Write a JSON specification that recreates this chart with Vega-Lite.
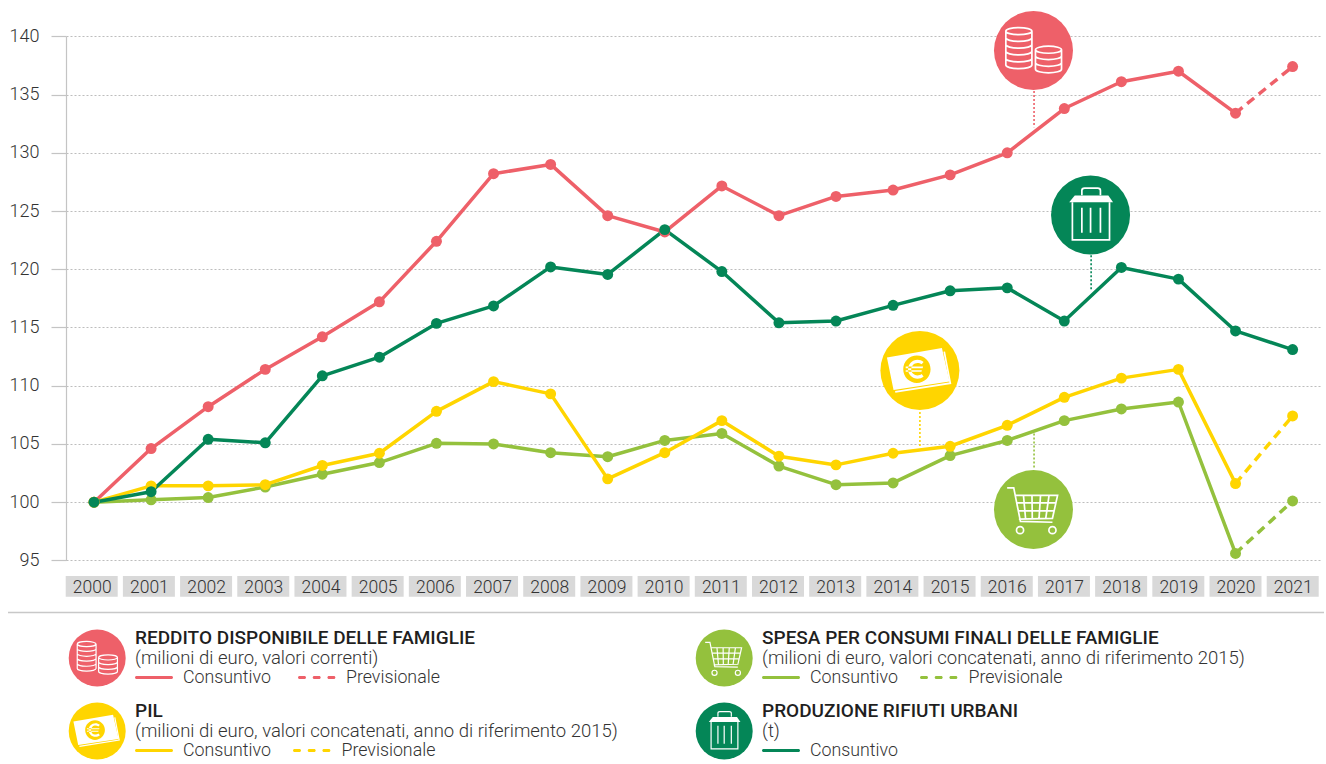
{"$schema":"https://vega.github.io/schema/vega-lite/v6.json","width":1326,"height":764,"padding":0,"autosize":{"type":"none"},"background":"white",
"config":{"view":{"stroke":null},"font":"Roboto"},
"datasets":{
"serie":[
{"serie":"Reddito","anno":2000,"valore":100},{"serie":"Reddito","anno":2001,"valore":104.6},{"serie":"Reddito","anno":2002,"valore":108.2},{"serie":"Reddito","anno":2003,"valore":111.4},{"serie":"Reddito","anno":2004,"valore":114.2},{"serie":"Reddito","anno":2005,"valore":117.2},{"serie":"Reddito","anno":2006,"valore":122.4},{"serie":"Reddito","anno":2007,"valore":128.2},{"serie":"Reddito","anno":2008,"valore":129},{"serie":"Reddito","anno":2009,"valore":124.6},{"serie":"Reddito","anno":2010,"valore":123.2},{"serie":"Reddito","anno":2011,"valore":127.15},{"serie":"Reddito","anno":2012,"valore":124.6},{"serie":"Reddito","anno":2013,"valore":126.25},{"serie":"Reddito","anno":2014,"valore":126.8},{"serie":"Reddito","anno":2015,"valore":128.1},{"serie":"Reddito","anno":2016,"valore":130},{"serie":"Reddito","anno":2017,"valore":133.8},{"serie":"Reddito","anno":2018,"valore":136.1},{"serie":"Reddito","anno":2019,"valore":137},{"serie":"Reddito","anno":2020,"valore":133.4},{"serie":"Reddito","anno":2021,"valore":137.4},
{"serie":"Spesa","anno":2000,"valore":100},{"serie":"Spesa","anno":2001,"valore":100.2},{"serie":"Spesa","anno":2002,"valore":100.4},{"serie":"Spesa","anno":2003,"valore":101.3},{"serie":"Spesa","anno":2004,"valore":102.4},{"serie":"Spesa","anno":2005,"valore":103.4},{"serie":"Spesa","anno":2006,"valore":105.05},{"serie":"Spesa","anno":2007,"valore":105},{"serie":"Spesa","anno":2008,"valore":104.25},{"serie":"Spesa","anno":2009,"valore":103.9},{"serie":"Spesa","anno":2010,"valore":105.3},{"serie":"Spesa","anno":2011,"valore":105.9},{"serie":"Spesa","anno":2012,"valore":103.1},{"serie":"Spesa","anno":2013,"valore":101.5},{"serie":"Spesa","anno":2014,"valore":101.65},{"serie":"Spesa","anno":2015,"valore":104},{"serie":"Spesa","anno":2016,"valore":105.3},{"serie":"Spesa","anno":2017,"valore":107},{"serie":"Spesa","anno":2018,"valore":108},{"serie":"Spesa","anno":2019,"valore":108.6},{"serie":"Spesa","anno":2020,"valore":95.6},{"serie":"Spesa","anno":2021,"valore":100.1},
{"serie":"PIL","anno":2000,"valore":100},{"serie":"PIL","anno":2001,"valore":101.4},{"serie":"PIL","anno":2002,"valore":101.4},{"serie":"PIL","anno":2003,"valore":101.5},{"serie":"PIL","anno":2004,"valore":103.15},{"serie":"PIL","anno":2005,"valore":104.2},{"serie":"PIL","anno":2006,"valore":107.8},{"serie":"PIL","anno":2007,"valore":110.35},{"serie":"PIL","anno":2008,"valore":109.3},{"serie":"PIL","anno":2009,"valore":102},{"serie":"PIL","anno":2010,"valore":104.25},{"serie":"PIL","anno":2011,"valore":107},{"serie":"PIL","anno":2012,"valore":103.95},{"serie":"PIL","anno":2013,"valore":103.2},{"serie":"PIL","anno":2014,"valore":104.2},{"serie":"PIL","anno":2015,"valore":104.8},{"serie":"PIL","anno":2016,"valore":106.6},{"serie":"PIL","anno":2017,"valore":109},{"serie":"PIL","anno":2018,"valore":110.65},{"serie":"PIL","anno":2019,"valore":111.4},{"serie":"PIL","anno":2020,"valore":101.6},{"serie":"PIL","anno":2021,"valore":107.4},
{"serie":"Rifiuti","anno":2000,"valore":100},{"serie":"Rifiuti","anno":2001,"valore":100.9},{"serie":"Rifiuti","anno":2002,"valore":105.4},{"serie":"Rifiuti","anno":2003,"valore":105.1},{"serie":"Rifiuti","anno":2004,"valore":110.85},{"serie":"Rifiuti","anno":2005,"valore":112.45},{"serie":"Rifiuti","anno":2006,"valore":115.35},{"serie":"Rifiuti","anno":2007,"valore":116.85},{"serie":"Rifiuti","anno":2008,"valore":120.2},{"serie":"Rifiuti","anno":2009,"valore":119.55},{"serie":"Rifiuti","anno":2010,"valore":123.4},{"serie":"Rifiuti","anno":2011,"valore":119.8},{"serie":"Rifiuti","anno":2012,"valore":115.4},{"serie":"Rifiuti","anno":2013,"valore":115.55},{"serie":"Rifiuti","anno":2014,"valore":116.9},{"serie":"Rifiuti","anno":2015,"valore":118.15},{"serie":"Rifiuti","anno":2016,"valore":118.4},{"serie":"Rifiuti","anno":2017,"valore":115.55},{"serie":"Rifiuti","anno":2018,"valore":120.15},{"serie":"Rifiuti","anno":2019,"valore":119.15},{"serie":"Rifiuti","anno":2020,"valore":114.7},{"serie":"Rifiuti","anno":2021,"valore":113.1}],
"anni":[{"anno":2000},{"anno":2001},{"anno":2002},{"anno":2003},{"anno":2004},{"anno":2005},{"anno":2006},{"anno":2007},{"anno":2008},{"anno":2009},{"anno":2010},{"anno":2011},{"anno":2012},{"anno":2013},{"anno":2014},{"anno":2015},{"anno":2016},{"anno":2017},{"anno":2018},{"anno":2019},{"anno":2020},{"anno":2021}],
"icone":[
{"serie":"Reddito","anno":2016.46,"valore":138.78,"da":135.3,"a":132.2,"xr":2016.47},
{"serie":"Rifiuti","anno":2017.46,"valore":124.66,"da":121.2,"a":118.2,"xr":2017.47},
{"serie":"PIL","anno":2014.47,"valore":111.3,"da":107.75,"a":104.75,"xr":2014.47},
{"serie":"Spesa","anno":2016.46,"valore":99.36,"da":105.9,"a":102.85,"xr":2016.47}],
"legenda":[
{"serie":"Reddito","titolo":"REDDITO DISPONIBILE DELLE FAMIGLIE","nota":"(milioni di euro, valori correnti)","colonna":"sx","blocco":"alto","prev":"largo"},
{"serie":"PIL","titolo":"PIL","nota":"(milioni di euro, valori concatenati, anno di riferimento 2015)","colonna":"sx","blocco":"basso","prev":"stretto"},
{"serie":"Spesa","titolo":"SPESA PER CONSUMI FINALI DELLE FAMIGLIE","nota":"(milioni di euro, valori concatenati, anno di riferimento 2015)","colonna":"dx","blocco":"alto","prev":"stretto"},
{"serie":"Rifiuti","titolo":"PRODUZIONE RIFIUTI URBANI","nota":"(t)","colonna":"dx","blocco":"basso","prev":"nessuno"}],
"filetto":[{"colonna":"sx","blocco":"alto"}]
},
"layer":[
{"data":{"name":"anni"},"transform":[{"calculate":"0","as":"fascia"}],"mark":{"type":"tick","orient":"horizontal","size":52,"thickness":20.7,"color":"#d9d9d9","opacity":1},
"encoding":{
"x":{"field":"anno","type":"quantitative","scale":{"domain":[2000,2021],"range":[91.7,1292.7],"nice":false,"zero":false,"padding":0},
"axis":{"title":null,"values":[2000,2001,2002,2003,2004,2005,2006,2007,2008,2009,2010,2011,2012,2013,2014,2015,2016,2017,2018,2019,2020,2021],"format":"d","domain":false,"ticks":false,"grid":false,"offset":-188,"labelPadding":2,"labelFontSize":17.5,"labelFont":"Roboto","labelFontWeight":300,"labelColor":"#333333","labelFlush":false,"labelOverlap":false,"zindex":1}},
"y":{"field":"fascia","type":"quantitative","scale":{"domain":[0,1],"range":[586.4,600],"nice":false,"zero":false},"axis":null}}},
{"encoding":{
"x":{"field":"anno","type":"quantitative","scale":{"domain":[1999.509,2021.48],"range":[66,1320],"nice":false,"zero":false,"padding":0},"axis":null},
"y":{"field":"valore","type":"quantitative","scale":{"domain":[95,140],"range":[560.4,36.3],"nice":false,"zero":false},
"axis":{"title":null,"values":[95,100,105,110,115,120,125,130,135,140],"offset":-66,"tickSize":15,"tickColor":"#c4c4c4","tickWidth":1.2,"domainColor":"#c4c4c4","domainWidth":1.2,"labelPadding":12,"labelFontSize":18,"labelFont":"Roboto","labelFontWeight":300,"labelColor":"#333333","grid":true,"gridColor":"#bdbdbd","gridDash":[2,2],"gridWidth":1}},
"color":{"field":"serie","type":"nominal","scale":{"domain":["Reddito","Spesa","PIL","Rifiuti"],"range":["#EE6069","#94C13D","#FFD500","#048657"]},"legend":null},
"shape":{"field":"serie","type":"nominal","scale":{"domain":["Reddito","Spesa","PIL","Rifiuti"],"range":["M-.70,-.49 A.33,.09 0 1 1 -.04,-.49 A.33,.09 0 1 1 -.70,-.49 L-.70,.37 A.33,.09 0 0 0 -.04,.37 L-.04,-.49 M-.70,-.32 A.33,.09 0 0 0 -.04,-.32 M-.70,-.15 A.33,.09 0 0 0 -.04,-.15 M-.70,.02 A.33,.09 0 0 0 -.04,.02 M-.70,.2 A.33,.09 0 0 0 -.04,.2 M.05,-.02 A.33,.09 0 1 1 .71,-.02 A.33,.09 0 1 1 .05,-.02 L.05,.475 A.33,.09 0 0 0 .71,.475 L.71,-.02 M.05,.14 A.33,.09 0 0 0 .71,.14 M.05,.31 A.33,.09 0 0 0 .71,.31",
"M-.667,-.55 L-.5,-.55 L-.33,.30 L.48,.32 M-.47,-.36 L.61,-.36 L.48,.22 L-.37,.24 M-.254,-.36 L-.2,.23 M-.038,-.36 L-.03,.23 M.178,-.36 L.14,.23 M.394,-.36 L.31,.23 M-.43,-.17 L.57,-.17 M-.39,.03 L.54,.03 M-.25,.52 A.09,.09 0 1 1 -.43,.52 A.09,.09 0 1 1 -.25,.52 M.57,.52 A.09,.09 0 1 1 .39,.52 A.09,.09 0 1 1 .57,.52",
"M-.625,.54 L.77,.32 L.616,-.48",
"M-.22,-.5 L-.22,-.62 Q-.22,-.68 -.15,-.68 L.18,-.68 Q.25,-.68 .25,-.62 L.25,-.5 M-.46,-.32 L-.46,.63 L.48,.63 L.48,-.32 M-.22,-.18 L-.22,.45 M0,-.18 L0,.45 M.25,-.18 L.25,.45"]},"legend":null}
},
"layer":[
{"data":{"name":"icone"},"mark":{"type":"rule","strokeWidth":1.6,"strokeDash":[2,2]},"encoding":{"x":{"field":"xr","type":"quantitative"},"y":{"field":"da","type":"quantitative"},"y2":{"field":"a"},"shape":null}},
{"data":{"name":"serie"},"transform":[{"filter":"datum.serie==='Rifiuti' || datum.anno<=2020"}],"mark":{"type":"line","strokeWidth":3.5,"strokeJoin":"round"},"encoding":{"detail":{"field":"serie"},"shape":null}},
{"data":{"name":"serie"},"transform":[{"filter":"datum.serie!=='Rifiuti' && datum.anno>=2020"}],"mark":{"type":"line","strokeWidth":3.5,"strokeDash":[9,6]},"encoding":{"detail":{"field":"serie"},"shape":null}},
{"data":{"name":"serie"},"mark":{"type":"point","filled":true,"opacity":1,"size":120,"shape":"circle"},"encoding":{"shape":null}},
{"data":{"name":"icone"},"mark":{"type":"point","filled":true,"opacity":1,"size":6241,"shape":"circle"},"encoding":{"shape":null}},
{"data":{"name":"icone"},"mark":{"type":"point","filled":false,"opacity":1,"size":6241,"strokeWidth":1.7,"stroke":"white","fill":null},"encoding":{"color":null}},
{"data":{"name":"icone"},"transform":[{"filter":"datum.serie==='PIL'"}],"mark":{"type":"point","filled":true,"opacity":1,"size":6241,"fill":"white","stroke":null,"shape":"M-.835,-.33 L.557,-.57 L.75,.278 L-.667,.489 Z M.27,-.034 A.346,.346 0 1 0 -.422,-.034 A.346,.346 0 1 0 .27,-.034 Z M.094,-.218 A.24,.24 0 1 0 .094,.15 L.043,.089 A.16,.16 0 1 1 .043,-.157 Z M-.36,-.1 L.08,-.1 L.07,-.06 L-.36,-.06 Z M-.36,-.01 L.05,-.01 L.04,.03 L-.36,.03 Z"},"encoding":{"color":null,"shape":null}},
{"data":{"name":"icone"},"transform":[{"filter":"datum.serie==='Rifiuti'"}],"mark":{"type":"point","filled":true,"opacity":1,"size":6241,"fill":"white","stroke":null,"shape":"M-.40,-.49 L.45,-.49 L.57,-.32 L-.54,-.32 Z"},"encoding":{"color":null,"shape":null}}
]},
{"encoding":{
"x":{"field":"colonna","type":"nominal","scale":{"type":"point","domain":["sx","dx"],"range":[135,762],"padding":0},"axis":null},
"y":{"field":"blocco","type":"nominal","scale":{"type":"point","domain":["alto","basso"],"range":[637.5,710.5],"padding":0},"axis":null}},
"layer":[
{"data":{"name":"filetto"},"mark":{"type":"tick","orient":"horizontal","size":1316,"thickness":1.5,"color":"#c8c8c8","xOffset":531,"yOffset":-25,"opacity":1}},
{"data":{"name":"legenda"},"mark":{"type":"point","filled":true,"opacity":1,"size":3249,"shape":"circle","xOffset":-37.8,"yOffset":20.5},"encoding":{"color":{"field":"serie","type":"nominal","legend":null}}},
{"data":{"name":"legenda"},"mark":{"type":"point","filled":false,"opacity":1,"size":3249,"strokeWidth":1.2,"stroke":"white","fill":null,"xOffset":-37.8,"yOffset":20.5},"encoding":{"shape":{"field":"serie","type":"nominal","legend":null}}},
{"data":{"name":"legenda"},"transform":[{"filter":"datum.serie==='PIL'"}],"mark":{"type":"point","filled":true,"opacity":1,"size":3249,"fill":"white","stroke":null,"xOffset":-37.8,"yOffset":20.5,"shape":"M-.835,-.33 L.557,-.57 L.75,.278 L-.667,.489 Z M.27,-.034 A.346,.346 0 1 0 -.422,-.034 A.346,.346 0 1 0 .27,-.034 Z M.094,-.218 A.24,.24 0 1 0 .094,.15 L.043,.089 A.16,.16 0 1 1 .043,-.157 Z M-.36,-.1 L.08,-.1 L.07,-.06 L-.36,-.06 Z M-.36,-.01 L.05,-.01 L.04,.03 L-.36,.03 Z"}},
{"data":{"name":"legenda"},"transform":[{"filter":"datum.serie==='Rifiuti'"}],"mark":{"type":"point","filled":true,"opacity":1,"size":3249,"fill":"white","stroke":null,"xOffset":-37.8,"yOffset":20.5,"shape":"M-.40,-.49 L.45,-.49 L.57,-.32 L-.54,-.32 Z"}},
{"data":{"name":"legenda"},"mark":{"type":"text","align":"left","baseline":"middle","fontSize":19,"fontWeight":500,"font":"Roboto","color":"#1f1f1f"},"encoding":{"text":{"field":"titolo"}}},
{"data":{"name":"legenda"},"mark":{"type":"text","align":"left","baseline":"middle","fontSize":18.5,"fontWeight":300,"font":"Roboto","color":"#333333","yOffset":20},"encoding":{"text":{"field":"nota"}}},
{"data":{"name":"legenda"},"mark":{"type":"tick","orient":"horizontal","size":38,"thickness":3,"xOffset":19,"yOffset":40,"opacity":1,"cornerRadius":1.5},"encoding":{"color":{"field":"serie","type":"nominal","legend":null}}},
{"data":{"name":"legenda"},"mark":{"type":"text","align":"left","baseline":"middle","fontSize":17.8,"fontWeight":300,"font":"Roboto","color":"#333333","yOffset":40.5,"xOffset":48},"encoding":{"text":{"value":"Consuntivo"}}},
{"data":{"name":"legenda"},"transform":[{"filter":"datum.prev==='largo'"}],"mark":{"type":"tick","orient":"horizontal","size":8,"thickness":3,"xOffset":167,"yOffset":40,"opacity":1,"cornerRadius":1.5},"encoding":{"color":{"field":"serie","type":"nominal","legend":null}}},
{"data":{"name":"legenda"},"transform":[{"filter":"datum.prev==='largo'"}],"mark":{"type":"tick","orient":"horizontal","size":8,"thickness":3,"xOffset":181.7,"yOffset":40,"opacity":1,"cornerRadius":1.5},"encoding":{"color":{"field":"serie","type":"nominal","legend":null}}},
{"data":{"name":"legenda"},"transform":[{"filter":"datum.prev==='largo'"}],"mark":{"type":"tick","orient":"horizontal","size":8,"thickness":3,"xOffset":196.4,"yOffset":40,"opacity":1,"cornerRadius":1.5},"encoding":{"color":{"field":"serie","type":"nominal","legend":null}}},
{"data":{"name":"legenda"},"transform":[{"filter":"datum.prev==='stretto'"}],"mark":{"type":"tick","orient":"horizontal","size":8,"thickness":3,"xOffset":162,"yOffset":40,"opacity":1,"cornerRadius":1.5},"encoding":{"color":{"field":"serie","type":"nominal","legend":null}}},
{"data":{"name":"legenda"},"transform":[{"filter":"datum.prev==='stretto'"}],"mark":{"type":"tick","orient":"horizontal","size":8,"thickness":3,"xOffset":176.7,"yOffset":40,"opacity":1,"cornerRadius":1.5},"encoding":{"color":{"field":"serie","type":"nominal","legend":null}}},
{"data":{"name":"legenda"},"transform":[{"filter":"datum.prev==='stretto'"}],"mark":{"type":"tick","orient":"horizontal","size":8,"thickness":3,"xOffset":191.4,"yOffset":40,"opacity":1,"cornerRadius":1.5},"encoding":{"color":{"field":"serie","type":"nominal","legend":null}}},
{"data":{"name":"legenda"},"transform":[{"filter":"datum.prev==='largo'"}],"mark":{"type":"text","align":"left","baseline":"middle","fontSize":17.8,"fontWeight":300,"font":"Roboto","color":"#333333","yOffset":40.5,"xOffset":211},"encoding":{"text":{"value":"Previsionale"}}},
{"data":{"name":"legenda"},"transform":[{"filter":"datum.prev==='stretto'"}],"mark":{"type":"text","align":"left","baseline":"middle","fontSize":17.8,"fontWeight":300,"font":"Roboto","color":"#333333","yOffset":40.5,"xOffset":206.5},"encoding":{"text":{"value":"Previsionale"}}}
]}
],
"resolve":{"scale":{"x":"independent","y":"independent"}}
}
